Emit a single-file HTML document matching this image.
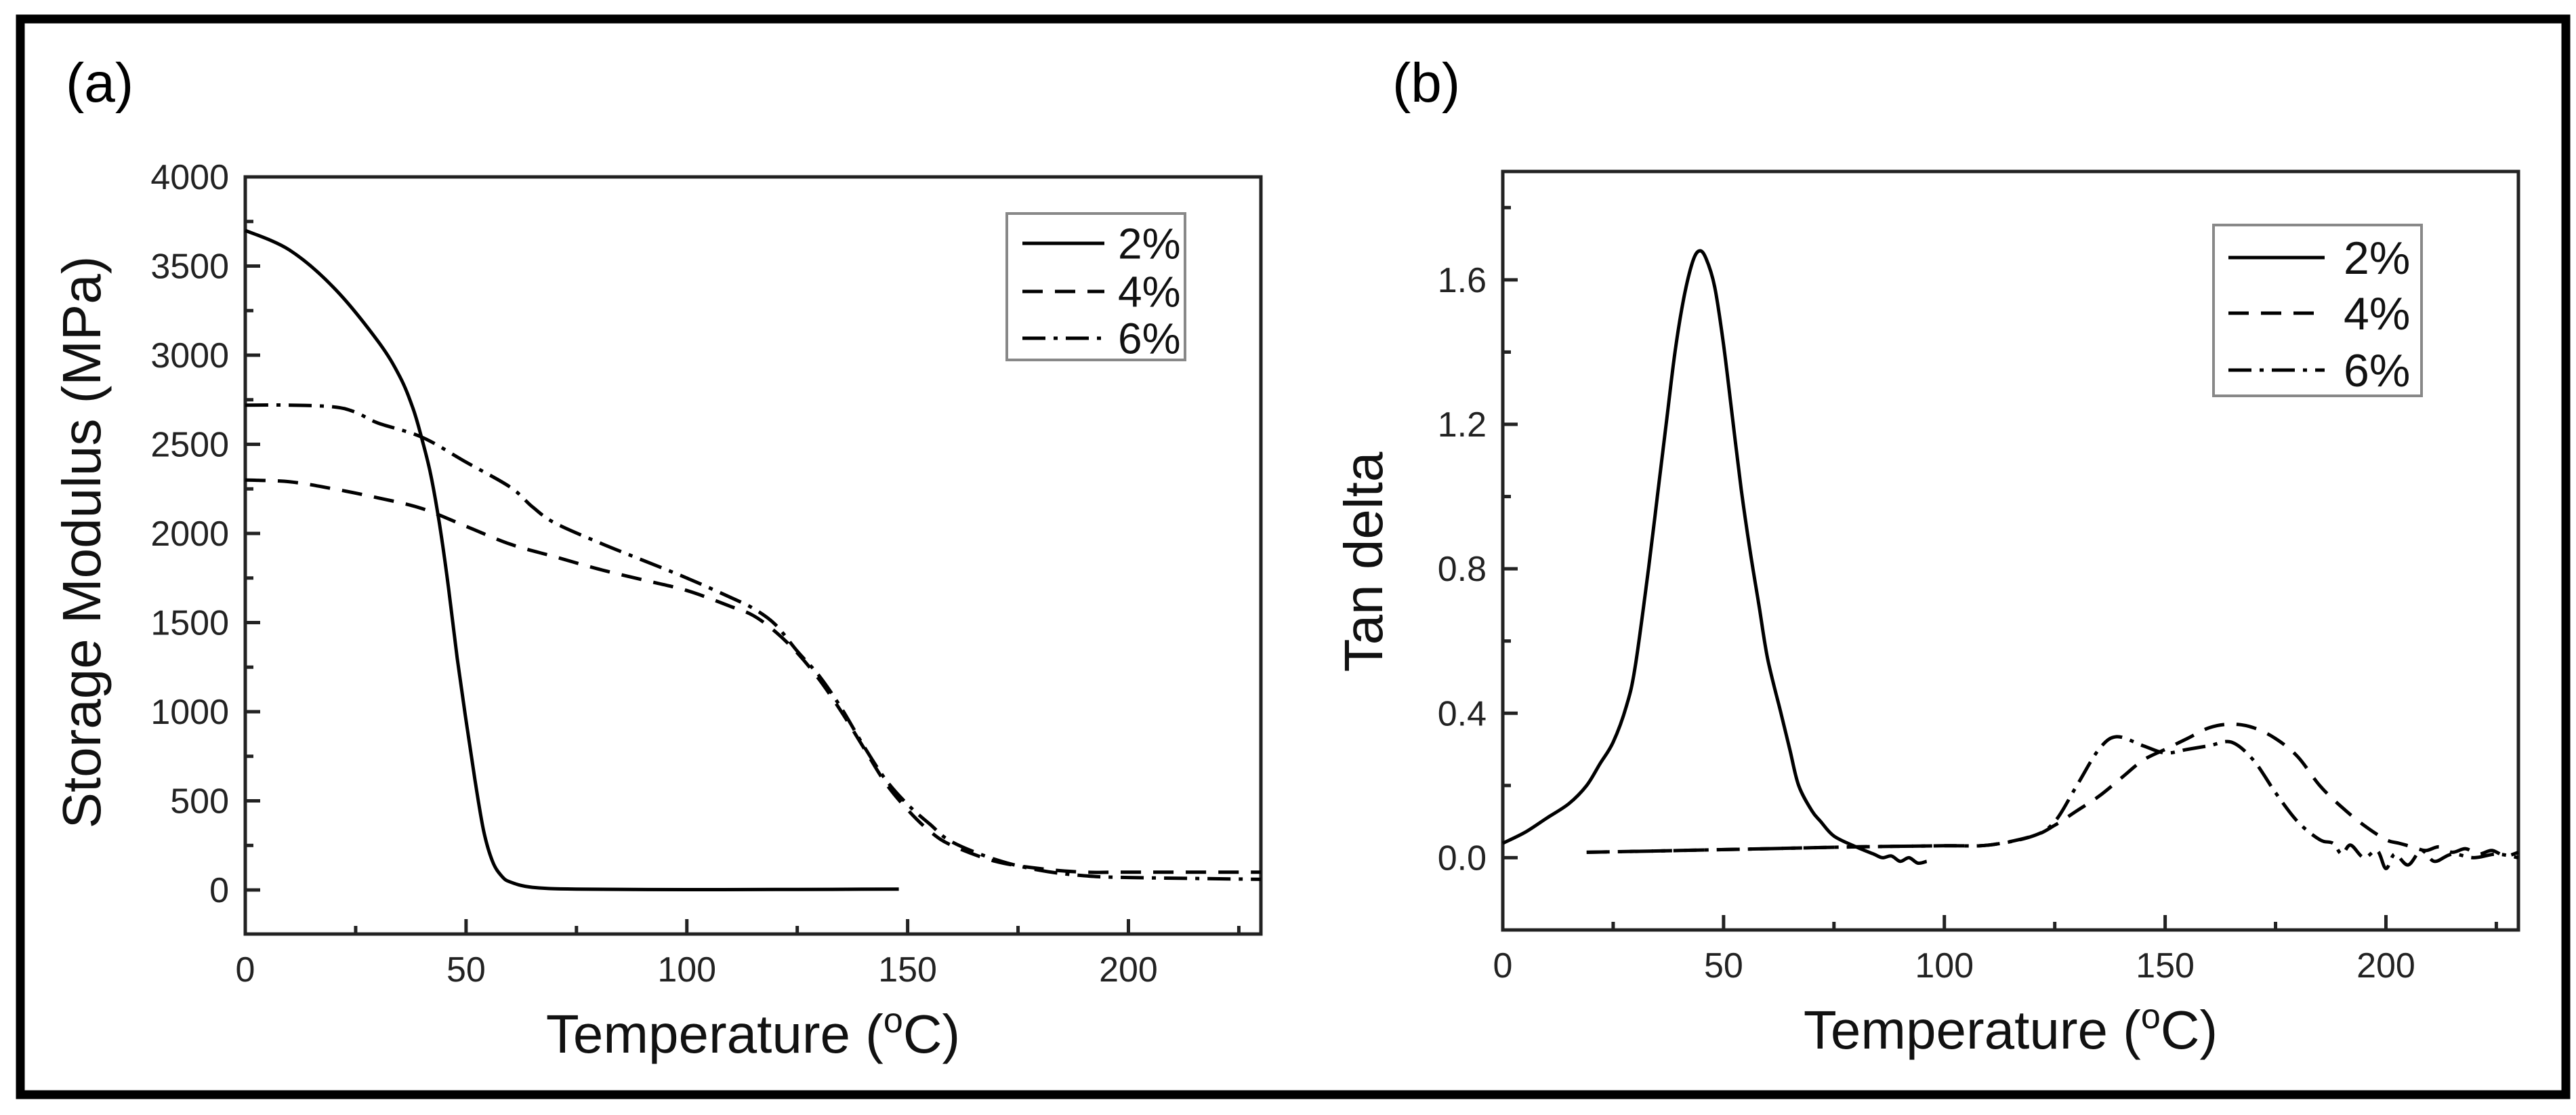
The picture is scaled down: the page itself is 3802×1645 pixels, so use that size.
<!DOCTYPE html>
<html><head><meta charset="utf-8">
<style>
html,body{margin:0;padding:0;background:#fff;}
svg{display:block;font-family:"Liberation Sans",Arial,sans-serif;}
</style></head>
<body>
<svg id="fig" width="3802" height="1645" viewBox="0 0 3802 1645" xmlns="http://www.w3.org/2000/svg">
<rect x="0" y="0" width="3802" height="1645" fill="#fff"/>
<rect x="30" y="28" width="3757" height="1587" fill="none" stroke="#000" stroke-width="13"/>
<text x="97" y="150" font-size="82">(a)</text>
<text x="2055" y="150" font-size="82">(b)</text>
<g id="pa"></g>
<g id="pb"></g>
</svg>
<script>
// ---- Panel (a) data: storage modulus (MPa) vs temperature (°C)
const aX2 = [0,10,20,30,35,38,40,42,44,46,48,50,52,54,56,58,60,65,75,100,125,148];
const aY2 = [3700,3590,3380,3080,2880,2700,2530,2330,2050,1700,1300,950,620,330,160,80,45,15,5,2,3,5];
const aX4 = [0,10,20,30,40,50,60,70,80,90,100,110,115,120,125,130,135,140,145,150,155,160,170,180,190,200,230];
const aY4 = [2300,2290,2250,2200,2140,2040,1940,1870,1800,1740,1680,1590,1540,1450,1330,1180,1000,800,600,450,330,250,160,120,100,100,100];
const aX6 = [0,10,20,25,30,40,50,60,65,70,80,90,100,110,115,120,125,130,135,140,145,150,155,160,170,180,190,200,230];
const aY6 = [2720,2720,2710,2680,2620,2540,2400,2260,2150,2060,1950,1850,1750,1640,1580,1490,1340,1200,1020,810,620,480,370,270,170,110,80,70,60];
const aYTicks = [0,500,1000,1500,2000,2500,3000,3500,4000];
const aXTicks = [0,50,100,150,200];
// ---- Panel (b) data: tan delta vs temperature
const bX2 = [0,5,10,15,19,22,25,28,30,33,35,37,39,41,43,44.5,46,48,50,52,54,56,58,60,63,65,67,70,72,75,80,84,86,88,90,92,94,96];
const bY2 = [0.04,0.07,0.11,0.15,0.2,0.26,0.32,0.42,0.53,0.8,1.0,1.2,1.4,1.55,1.65,1.68,1.66,1.58,1.42,1.22,1.02,0.85,0.7,0.55,0.4,0.3,0.2,0.13,0.1,0.06,0.03,0.01,0.0,0.005,-0.01,0.0,-0.015,-0.01];
const bX4 = [19,40,60,80,100,110,120,125,130,135,140,145,150,155,160,165,170,175,180,185,190,195,200,203,206,209,212,215,218,221,224,227,230];
const bY4 = [0.015,0.02,0.025,0.03,0.033,0.035,0.06,0.09,0.13,0.17,0.22,0.27,0.3,0.33,0.36,0.37,0.36,0.33,0.28,0.2,0.14,0.09,0.05,0.04,0.03,0.02,0.03,0.015,0.025,0.01,0.02,0.005,0.015];
const bX6 = [19,40,60,80,100,110,120,125,130,135,139,145,150,155,160,165,170,175,180,185,188,190,192,195,198,200,202,205,208,211,215,220,225,230];
const bY6 = [0.015,0.02,0.025,0.03,0.033,0.035,0.06,0.1,0.2,0.3,0.335,0.31,0.29,0.3,0.31,0.32,0.27,0.18,0.1,0.05,0.04,0.01,0.035,0.0,0.02,-0.03,0.01,-0.02,0.02,-0.01,0.01,0.0,0.01,0.0];
const bYTicks = [0.0,0.4,0.8,1.2,1.6];
const bYLabels = ["0.0","0.4","0.8","1.2","1.6"];
const bXTicks = [0,50,100,150,200];

const NS = "http://www.w3.org/2000/svg";
function mk(tag, attrs, parent){const e=document.createElementNS(NS,tag);for(const k in attrs)e.setAttribute(k,attrs[k]);parent.appendChild(e);return e;}

function smoothPath(pts){
  let d='M'+pts[0][0].toFixed(1)+','+pts[0][1].toFixed(1);
  for(let i=0;i<pts.length-1;i++){
    const p0=pts[Math.max(0,i-1)], p1=pts[i], p2=pts[i+1], p3=pts[Math.min(pts.length-1,i+2)];
    const c1x=p1[0]+(p2[0]-p0[0])/6, c1y=p1[1]+(p2[1]-p0[1])/6;
    const c2x=p2[0]-(p3[0]-p1[0])/6, c2y=p2[1]-(p3[1]-p1[1])/6;
    d+='C'+c1x.toFixed(1)+','+c1y.toFixed(1)+' '+c2x.toFixed(1)+','+c2y.toFixed(1)+' '+p2[0].toFixed(1)+','+p2[1].toFixed(1);
  }
  return d;
}

function drawPanel(g, cfg){
  const sx = v => cfg.L + (v - cfg.xmin)/(cfg.xmax-cfg.xmin)*(cfg.R-cfg.L);
  const sy = v => cfg.B - (v - cfg.ymin)/(cfg.ymax-cfg.ymin)*(cfg.B-cfg.T);
  const fr = mk('rect',{x:cfg.L,y:cfg.T,width:cfg.R-cfg.L,height:cfg.B-cfg.T,fill:'none',stroke:'#222','stroke-width':5},g);
  
  
  for(let v=cfg.yminorStart; v<=cfg.ymax+1e-9; v+=cfg.yminor){
    const y=sy(v); const isMajor = cfg.yticks.some(t=>Math.abs(t-v)<1e-6);
    const t=mk('line',{x1:cfg.L,x2:cfg.L+(isMajor?22:12),y1:y,y2:y,stroke:'#222','stroke-width':5},g);
    
    
  }
  cfg.yticks.forEach((v,i)=>{
    const t=mk('text',{x:cfg.L-24,y:sy(v)+18,'font-size':52,'text-anchor':'end',fill:'#222'},g);
    t.textContent = cfg.ylabels ? cfg.ylabels[i] : String(v);
    
    
  });
  for(let v=0; v<=cfg.xmax; v+=25){
    const x=sx(v); const isMajor = v%50===0;
    const t=mk('line',{x1:x,x2:x,y1:cfg.B,y2:cfg.B-(isMajor?22:12),stroke:'#222','stroke-width':5},g);
    
    
  }
  cfg.xticks.forEach(v=>{
    const t=mk('text',{x:sx(v),y:cfg.B+70,'font-size':52,'text-anchor':'middle',fill:'#222'},g);
    t.textContent=String(v);
    
    
  });
  const xt=mk('text',{x:(cfg.L+cfg.R)/2,y:cfg.B+175,'font-size':80,'text-anchor':'middle',fill:'#111'},g);
  xt.innerHTML='Temperature (<tspan font-size="52" dy="-30">o</tspan><tspan dy="30">C)</tspan>';
  
  
  const yt=mk('text',{x:0,y:0,'font-size':80,'text-anchor':'middle',fill:'#111',transform:`translate(${cfg.ytx},${cfg.yty}) rotate(-90)`},g);
  yt.textContent=cfg.ytitle;
  
  
  const dashes = ['', '30 18', '34 12 6 12'];
  cfg.series.forEach((s,i)=>{
    const pts = s.x.map((xv,j)=>[sx(xv), sy(s.y[j])]);
    const p=mk('path',{d:smoothPath(pts),fill:'none',stroke:'#000','stroke-width':5,'stroke-linejoin':'round','stroke-dasharray':dashes[i]},g);
    
    
  });
  const lg=cfg.legend;
  const box=mk('rect',{x:lg.x,y:lg.y,width:lg.w,height:lg.h,fill:'#fff',stroke:'#888','stroke-width':4},g);
  
  
  cfg.series.forEach((s,i)=>{
    const y=lg.rows[i];
    const l=mk('line',{x1:lg.lx1,x2:lg.lx2,y1:y,y2:y,stroke:'#000','stroke-width':5,'stroke-dasharray':dashes[i]},g);
    
    
    const t=mk('text',{x:lg.tx,y:y+lg.fs*0.35,'font-size':lg.fs,fill:'#111'},g);
    t.textContent=s.name;
    
    
  });
}

drawPanel(document.getElementById('pa'),{
  id:'a', L:362,R:1861,T:261,B:1378, xmin:0,xmax:230, ymin:-247,ymax:4000,
  yticks:aYTicks, yminor:250, yminorStart:0, xticks:aXTicks,
  ytitle:'Storage Modulus (MPa)', ytx:148, yty:800,
  series:[{name:'2%',x:aX2,y:aY2},{name:'4%',x:aX4,y:aY4},{name:'6%',x:aX6,y:aY6}],
  legend:{x:1486,y:315,w:263,h:216,rows:[359,430,499],lx1:1509,lx2:1630,tx:1650,fs:64}
});
drawPanel(document.getElementById('pb'),{
  id:'b', L:2218,R:3717,T:253,B:1372, xmin:0,xmax:230, ymin:-0.2,ymax:1.9,
  yticks:bYTicks, ylabels:bYLabels, yminor:0.2, yminorStart:0, xticks:bXTicks,
  ytitle:'Tan delta', ytx:2040, yty:829,
  series:[{name:'2%',x:bX2,y:bY2},{name:'4%',x:bX4,y:bY4},{name:'6%',x:bX6,y:bY6}],
  legend:{x:3267,y:332,w:307,h:252,rows:[380,462,546],lx1:3289,lx2:3431,tx:3459,fs:68}
});
</script>
</body></html>
